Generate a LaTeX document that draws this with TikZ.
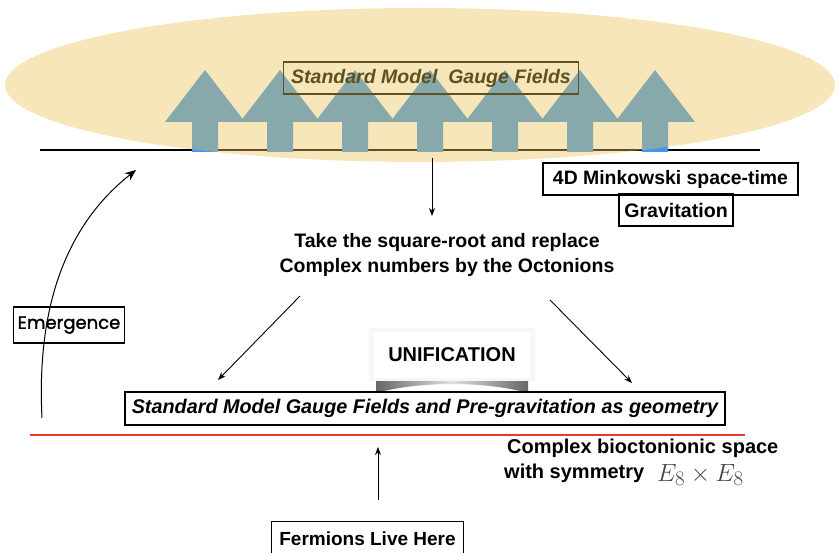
\documentclass[tikz,border=0pt]{standalone}
\usepackage{fontspec}
\setmainfont{Liberation Sans}
\setsansfont{Liberation Sans}
\newfontfamily\handfont[FakeBold=1.6]{Poppins}
\usetikzlibrary{arrows.meta}
\definecolor{ellyellow}{RGB}{232,195,85}
\definecolor{arrowblue}{RGB}{69,151,232}
\definecolor{redline}{RGB}{232,58,40}
\definecolor{mathgray}{RGB}{70,70,70}
\tikzset{
  box/.style={draw=black, line width=1.1pt, inner sep=0pt, align=center},
  lbl/.style={font=\fontsize{20}{25}\selectfont\bfseries, align=center, inner sep=0pt},
  conn/.style={draw=black, line width=0.9pt, -{Stealth[length=8pt,width=6pt]}},
  fieldarrow/.style={fill=arrowblue}
}
\begin{document}
\begin{tikzpicture}[x=1pt,y=-1pt]
\useasboundingbox (0,0) rectangle (839,553);
\clip (0,0) rectangle (839,553);

% space-time line
\coordinate (lineL) at (40,150);
\coordinate (lineR) at (760,150);
\draw[line width=2pt] (lineL) -- (lineR);

% gauge field arrows
\foreach \t in {205,280,355,430,505,580,655}{
  \fill[fieldarrow] (\t-13,152) -- (\t-13,122) -- (\t-40,122) -- (\t,70)
     -- (\t+40,122) -- (\t+13,122) -- (\t+13,152) -- cycle;
}

% gauge fields label
\node[box, minimum width=295pt, minimum height=32pt,
      font=\fontsize{19.5}{23}\selectfont\bfseries\itshape] (smgf) at (431,78) {Standard Model\ \ Gauge Fields};

% translucent ellipse on top
\fill[ellyellow, opacity=0.41] (420,85) ellipse [x radius=415, y radius=77];

% Minkowski / gravitation
\node[box, minimum width=255pt, minimum height=32pt, font=\fontsize{19.4}{23}\selectfont\bfseries] (mink) at (670.5,179) {4D Minkowski space-time};
\node[box, minimum width=114pt, minimum height=32pt, font=\fontsize{19.6}{23}\selectfont\bfseries] (grav) at (676,210) {Gravitation};

% take square root
\coordinate (downA) at (432,158);
\node[lbl, font=\fontsize{19.5}{25}\selectfont\bfseries] (take) at (447,255) {Take the square-root and replace\\Complex numbers by the Octonions};
\draw[conn] (downA) -- (432,216);

% diagonal arrows
\coordinate (dl1) at (300,296);
\coordinate (dl2) at (218,380);
\coordinate (dr1) at (550,300);
\coordinate (dr2) at (632,383);
\draw[conn] (dl1) -- (dl2);
\draw[conn] (dr1) -- (dr2);

% UNIFICATION with paper shadow
\shade[left color=black!60, right color=black!60, middle color=black!12] (376,377) -- (376,393)
   .. controls (420,381) and (484,381) .. (528,393) -- (528,377) -- cycle;
\fill[black!7] (371,330) rectangle (533,380);
\fill[black!3] (369,328) rectangle (535,381);
\node[fill=white, minimum width=156pt, minimum height=46pt, inner sep=0pt,
      font=\fontsize{20}{24}\selectfont\bfseries] (unif) at (452,355) {UNIFICATION};

% SM + pre-gravitation
\node[box, minimum width=600pt, minimum height=33pt,
      font=\fontsize{19.8}{23}\selectfont\bfseries\itshape] (geom) at (425,408.5) {Standard Model Gauge Fields and Pre-gravitation as geometry};

% red line
\coordinate (redL) at (30,435);
\coordinate (redR) at (745,435);
\draw[redline, line width=2.4pt] (redL) -- (redR);

% complex bioctonionic
\node[lbl, anchor=west] (cbs) at (507,448) {Complex bioctonionic space};
\node[lbl, anchor=west] (wsym) at (504,473) {with symmetry};
\node[anchor=west, inner sep=0pt, text=mathgray, font=\fontsize{28}{30}\selectfont] (e8) at (657,475) {$E_8\times E_8$};

% fermions
\node[box, anchor=north, minimum width=192pt, minimum height=40pt,
      font=\fontsize{19}{24}\selectfont\bfseries, text depth=0pt] (ferm) at (367.5,521) {\raisebox{5pt}{Fermions Live Here}};
\coordinate (upA) at (378,500);
\coordinate (upB) at (378,447);
\draw[conn] (upA) -- (upB);

% emergence
\node[box, minimum width=111pt, minimum height=36pt, font=\handfont\fontsize{18}{22}\selectfont] (emer) at (69,325) {Emergence};
\coordinate (emA) at (42,418);
\coordinate (emB) at (136,170);
\draw[line width=1pt, -{Stealth[length=11pt,width=9pt]}] (emA) .. controls (36,300) and (70,222) .. (emB);

\end{tikzpicture}
\end{document}
